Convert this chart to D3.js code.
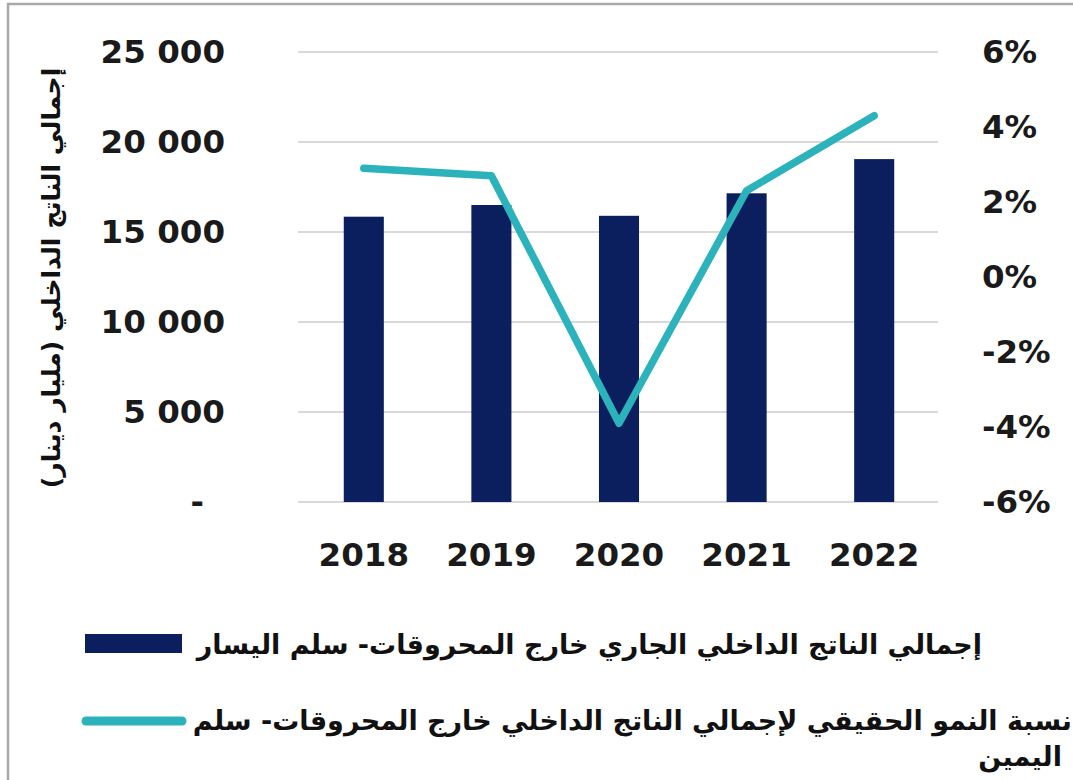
<!DOCTYPE html>
<html>
<head>
<meta charset="utf-8">
<script src="https://cdn.jsdelivr.net/npm/d3@7"></script>
<style>
  body { margin: 0; background: #fff; }
  svg { display: block; }
  .num { font-family: "DejaVu Sans", Verdana, sans-serif; font-weight: bold; fill: #1a1a1a; }
  .ar  { font-family: "DejaVu Sans", sans-serif; font-weight: bold; fill: #111; direction: rtl; unicode-bidi: embed; }
</style>
</head>
<body>
<svg id="chart" width="1073" height="780"></svg>
<script>
// Non-hydrocarbon GDP: current value (billion DZD, left scale) and real growth (%, right scale)
const years = ["2018", "2019", "2020", "2021", "2022"];
const gdpCurrent = [15850, 16500, 15900, 17150, 19050];
const realGrowth = [2.9, 2.7, -3.9, 2.3, 4.3];
const leftTicks = [0, 5000, 10000, 15000, 20000, 25000];
const rightTicks = [-6, -4, -2, 0, 2, 4, 6];
const leftTitle = "إجمالي الناتج الداخلي (مليار دينار)";
const barLegend = "إجمالي الناتج الداخلي الجاري خارج المحروقات- سلم اليسار";
const lineLegend = ["نسبة النمو الحقيقي لإجمالي الناتج الداخلي خارج المحروقات- سلم", "اليمين"];

const navy = "#0b1f5e";
const teal = "#2cb2bb";
const tickFont = "32.5px";

const svg = d3.select("#chart");

// frame
svg.append("path")
  .attr("d", "M8,780 L8,4 L1073,4")
  .attr("fill", "none")
  .attr("stroke", "#a8a8a8")
  .attr("stroke-width", 2.5);

const plot = { left: 300, right: 938, top: 52, bottom: 502 };

const x = d3.scaleBand()
  .domain(years)
  .range([plot.left, plot.right])
  .paddingInner(0.686)
  .paddingOuter(0.343);

const yL = d3.scaleLinear().domain([0, 25000]).range([plot.bottom, plot.top]);
const yR = d3.scaleLinear().domain([-6, 6]).range([plot.bottom, plot.top]);

// gridlines
svg.append("g")
  .selectAll("line")
  .data(leftTicks)
  .join("line")
  .attr("x1", plot.left - 2)
  .attr("x2", plot.right)
  .attr("y1", d => yL(d))
  .attr("y2", d => yL(d))
  .attr("stroke", "#d9d9d9")
  .attr("stroke-width", 2);

// left axis
const fmtLeft = d => d === 0 ? "-" : d3.format(",")(d).replace(/,/g, " ");
const gL = svg.append("g")
  .attr("transform", `translate(${plot.left - 2},0)`)
  .call(d3.axisLeft(yL).tickValues(leftTicks).tickFormat(fmtLeft).tickSize(0).tickPadding(73));
gL.select(".domain").remove();
gL.selectAll("text").attr("class", "num").style("font-size", tickFont).attr("fill", null);
gL.selectAll(".tick").filter(d => d === 0).select("text").attr("dx", -21);

// right axis
const gR = svg.append("g")
  .attr("transform", `translate(${plot.right},0)`)
  .call(d3.axisRight(yR).tickValues(rightTicks).tickFormat(d => d + "%").tickSize(0).tickPadding(44));
gR.select(".domain").remove();
gR.selectAll("text").attr("class", "num").style("font-size", tickFont).attr("fill", null);

// bottom axis
const gX = svg.append("g")
  .attr("transform", `translate(0,${plot.bottom})`)
  .call(d3.axisBottom(x).tickSize(0).tickPadding(41));
gX.select(".domain").remove();
gX.selectAll("text").attr("class", "num").style("font-size", tickFont).attr("fill", null);

// bars
svg.append("g")
  .selectAll("rect")
  .data(years.map((y, i) => ({ year: y, v: gdpCurrent[i] })))
  .join("rect")
  .attr("x", d => x(d.year))
  .attr("width", x.bandwidth())
  .attr("y", d => yL(d.v))
  .attr("height", d => yL(0) - yL(d.v))
  .attr("fill", navy);

// growth line
const line = d3.line()
  .x(d => x(d.year) + x.bandwidth() / 2)
  .y(d => yR(d.v));
svg.append("path")
  .datum(years.map((y, i) => ({ year: y, v: realGrowth[i] })))
  .attr("d", line)
  .attr("fill", "none")
  .attr("stroke", teal)
  .attr("stroke-width", 7.5)
  .attr("stroke-linecap", "round")
  .attr("stroke-linejoin", "round");

// left axis title
svg.append("text")
  .attr("class", "ar")
  .attr("transform", "translate(51,278) rotate(-90)")
  .attr("text-anchor", "middle")
  .attr("dy", "0.35em")
  .style("font-size", "25px")
  .text(leftTitle);

// legend
const lg = svg.append("g");
lg.append("rect")
  .attr("x", 85).attr("y", 634)
  .attr("width", 97).attr("height", 19)
  .attr("fill", navy);
lg.append("text")
  .attr("class", "ar")
  .attr("x", 982).attr("y", 654)
  .attr("text-anchor", "start")
  .style("font-size", "27px")
  .text(barLegend);

lg.append("line")
  .attr("x1", 86).attr("x2", 182)
  .attr("y1", 721).attr("y2", 721)
  .attr("stroke", teal)
  .attr("stroke-width", 9)
  .attr("stroke-linecap", "round");
lg.selectAll("text.l2")
  .data(lineLegend)
  .join("text")
  .attr("class", "ar l2")
  .attr("x", (d, i) => i === 0 ? 1072 : 1062)
  .attr("y", (d, i) => 730 + i * 36)
  .attr("text-anchor", "start")
  .style("font-size", "27px")
  .text(d => d);
</script>
</body>
</html>
